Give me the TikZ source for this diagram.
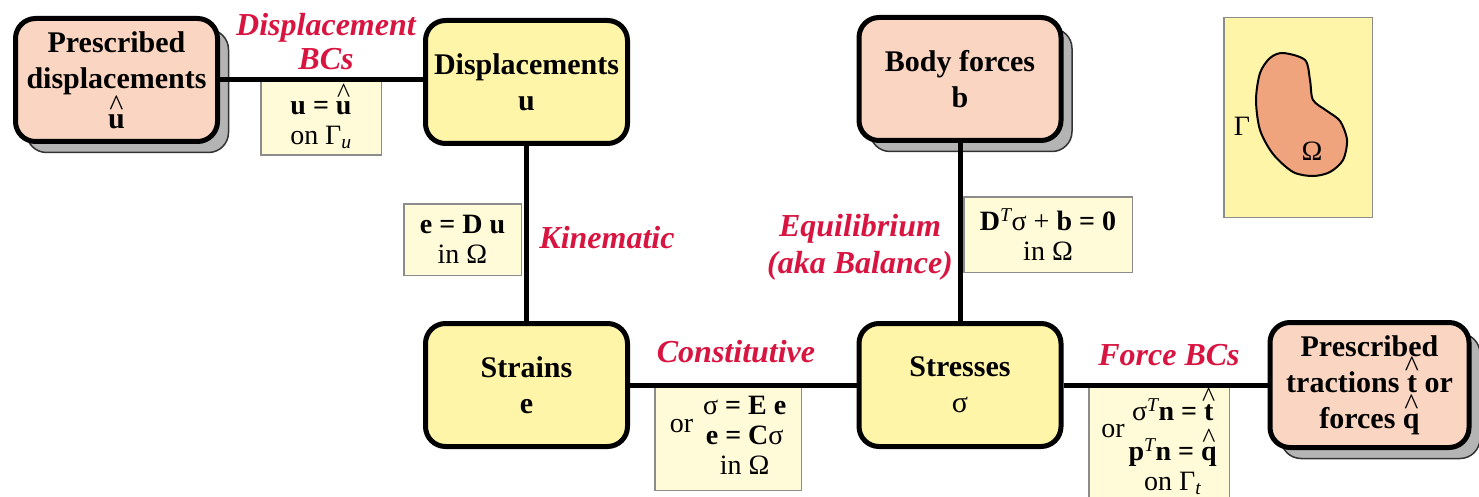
\documentclass[tikz,border=0pt]{standalone}
\usepackage{fontspec}
\setmainfont{Liberation Serif}
\usepackage{tikz}
\usetikzlibrary{shadows}
\definecolor{FEMsalmon}{HTML}{FAD5C1}
\definecolor{FEMyellow}{HTML}{FFF5A8}
\definecolor{FEMpale}{HTML}{FFFBD8}
\definecolor{FEMred}{HTML}{D81440}
\definecolor{FEMshadow}{HTML}{B4B4B4}
\definecolor{FEMkidney}{HTML}{F0A47E}
\definecolor{FEMgray}{HTML}{8C8C8C}
% caret placed above a letter
\newcommand{\caretacc}[1]{\leavevmode\setbox0\hbox{#1}\rlap{\hbox to\wd0{\hss\raisebox{\dimexpr\ht0-0.04em\relax}{\mdseries\textasciicircum}\hss}}\box0\relax}

\begin{document}
\begin{tikzpicture}[x=1pt, y=-1pt,
   box/.style={draw=black, line width=5pt, rounded corners=20pt,
      minimum width=202pt, minimum height=123pt, align=center, inner sep=2pt,
      font=\bfseries\fontsize{30}{36}\selectfont},
   given/.style={box, fill=FEMsalmon,
      copy shadow={shadow xshift=11pt, shadow yshift=-11pt, fill=FEMshadow, draw=black!80, line width=1.5pt}},
   field/.style={box, fill=FEMyellow},
   eqbox/.style={draw=FEMgray, line width=1.5pt, fill=FEMpale, align=center, inner sep=0pt,
      font=\fontsize{28}{30}\selectfont},
   law/.style={text=FEMred, align=center, font=\bfseries\itshape\fontsize{32}{34}\selectfont},
   link/.style={line width=5pt}]
   \useasboundingbox (0,0) rectangle (1479,497);
   % Equation boxes
   \node[eqbox, minimum width=120.5pt, minimum height=77.5pt] (bceq) at (321,116.5)
      {\textbf{u = \caretacc{u}}\\on Γ\textsubscript{\itshape u}};
   \node[eqbox, minimum width=117.5pt, minimum height=71.5pt] (kineq) at (462.5,239.5)
      {\textbf{e = D u}\\in Ω};
   \node[eqbox, minimum width=168.5pt, minimum height=75.5pt] (equieq) at (1048,234.5)
      {\textbf{D}\textsuperscript{\itshape T}σ + \textbf{b = 0}\\in Ω};
   \node[eqbox, minimum width=146.5pt, minimum height=104.5pt] (conseq) at (728,438)
      {\raisebox{12pt}{or}\hspace{10pt}\begin{tabular}{@{}c@{}}σ \textbf{= E e}\\\textbf{e = C}σ\\in Ω\end{tabular}};
   \node[eqbox, minimum width=140.5pt, minimum height=115.5pt] (forceeq) at (1159,443.5)
      {\raisebox{12pt}{or}\hspace{4pt}\begin{tabular}{@{}c@{}}σ\textsuperscript{\itshape T}\textbf{n = \caretacc{t}}\\\textbf{p}\textsuperscript{\mdseries\itshape T}\textbf{n = \caretacc{q}}\\on Γ\textsubscript{\itshape t}\end{tabular}};
   % Boxes
   \node[given] (presdisp) at (116.5,80) {Prescribed\\displacements\\\caretacc{u}};
   \node[field] (disp) at (526.5,82) {Displacements\\u};
   \node[given] (body) at (960,79) {Body forces\\b};
   \node[field] (strain) at (526.5,385) {Strains\\e};
   \node[field] (stress) at (960,385) {Stresses\\{\mdseries σ}};
   \node[given, minimum width=199pt, minimum height=125pt] (prestrac) at (1369.5,385)
      {Prescribed\\tractions \caretacc{t} or\\forces \caretacc{q}};
   % Links
   \draw[link] (presdisp.east) -- (presdisp.east -| disp.west);
   \draw[link] (disp.south) -- (strain.north);
   \draw[link] (body.south) -- (stress.north);
   \draw[link] (strain.east) -- (stress.west);
   \draw[link] (stress.east) -- (prestrac.west);
   % Labels
   \node[law] (bclab) at (326,42) {Displacement\\BCs};
   \node[law] (kinlab) at (607,238) {Kinematic};
   \node[law, font=\bfseries\itshape\fontsize{32}{37}\selectfont] (equilab) at (860,247) {Equilibrium\\(aka Balance)};
   \node[law] (conslab) at (736,352) {Constitutive};
   \node[law] (forcelab) at (1169,355) {Force BCs};
   % Domain sketch
   \node[draw=FEMgray, line width=1.5pt, fill=FEMyellow, minimum width=148.5pt,
      minimum height=199.5pt, inner sep=0pt] (domain) at (1298,117.5) {};
   \draw[line width=2pt, fill=FEMkidney] plot[smooth cycle] coordinates {
      (1283,53) (1305,60) (1310,80) (1313,100) (1327,111) (1340,121) (1347,140)
      (1343,160) (1330,172) (1313,176) (1293,172) (1273,154) (1260,130)
      (1256,100) (1260,73) (1270,58)};
   \node[font=\fontsize{28}{30}\selectfont] (gamma) at (1242,126) {Γ};
   \node[font=\fontsize{28}{30}\selectfont] (omega) at (1312,151) {Ω};
\end{tikzpicture}
\end{document}
